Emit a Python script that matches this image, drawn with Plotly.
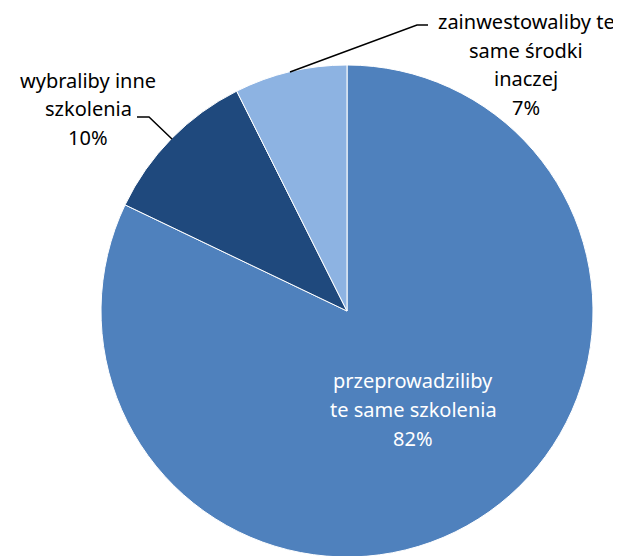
import plotly.graph_objects as go

categories = ["przeprowadziliby<br>te same szkolenia", "wybraliby inne<br>szkolenia", "zainwestowaliby te<br>same środki<br>inaczej"]
values = [82.1, 10.5, 7.4]
pct_labels = ["82%", "10%", "7%"]
colors = ["#4F81BD", "#1F497D", "#8DB3E2"]

W, H = 621, 556
OFF = 8  # page body margin
cx, cy, r = 347 - OFF, 311 - OFF, 246

fig = go.Figure(go.Pie(
    labels=categories,
    values=values,
    sort=False,
    direction="clockwise",
    rotation=0,
    marker=dict(colors=colors, line=dict(color="white", width=1)),
    textinfo="none",
    hoverinfo="label+percent",
    showlegend=False,
    domain=dict(x=[(cx - r) / W, (cx + r) / W],
                y=[max(0, (H - cy - r) / H), min(1, (H - cy + r) / H)]),
))

FONT = "Noto Sans"
LINE = 28.7

def px(x, y):
    return (x - OFF) / W, 1 - (y - OFF) / H

label_pos = [(413, 409.5, "white"), (88, 109, "#000000"), (526, 64.5, "#000000")]
for (x, y, col), cat, p in zip(label_pos, categories, pct_labels):
    lines = cat.split("<br>") + [p]
    n = len(lines)
    for i, ln in enumerate(lines):
        ly = y + (i - (n - 1) / 2) * LINE
        ax_, ay_ = px(x, ly)
        fig.add_annotation(x=ax_, y=ay_, xref="paper", yref="paper",
                           text=ln, showarrow=False, borderpad=0,
                           font=dict(family=FONT, size=20, color=col),
                           align="center", xanchor="center", yanchor="middle")

leaders = [[(137, 117), (149, 117), (172, 139)], [(290, 72), (417, 25), (428, 25)]]
for pts in leaders:
    path = "M " + " L ".join(f"{px(x, y)[0]},{px(x, y)[1]}" for x, y in pts)
    fig.add_shape(type="path", path=path, xref="paper", yref="paper",
                  line=dict(color="black", width=1.5))

fig.update_layout(width=W, height=H, margin=dict(l=0, r=0, t=0, b=0),
                  paper_bgcolor="white", plot_bgcolor="white",
                  font=dict(family=FONT))
fig.write_html("out.html")
